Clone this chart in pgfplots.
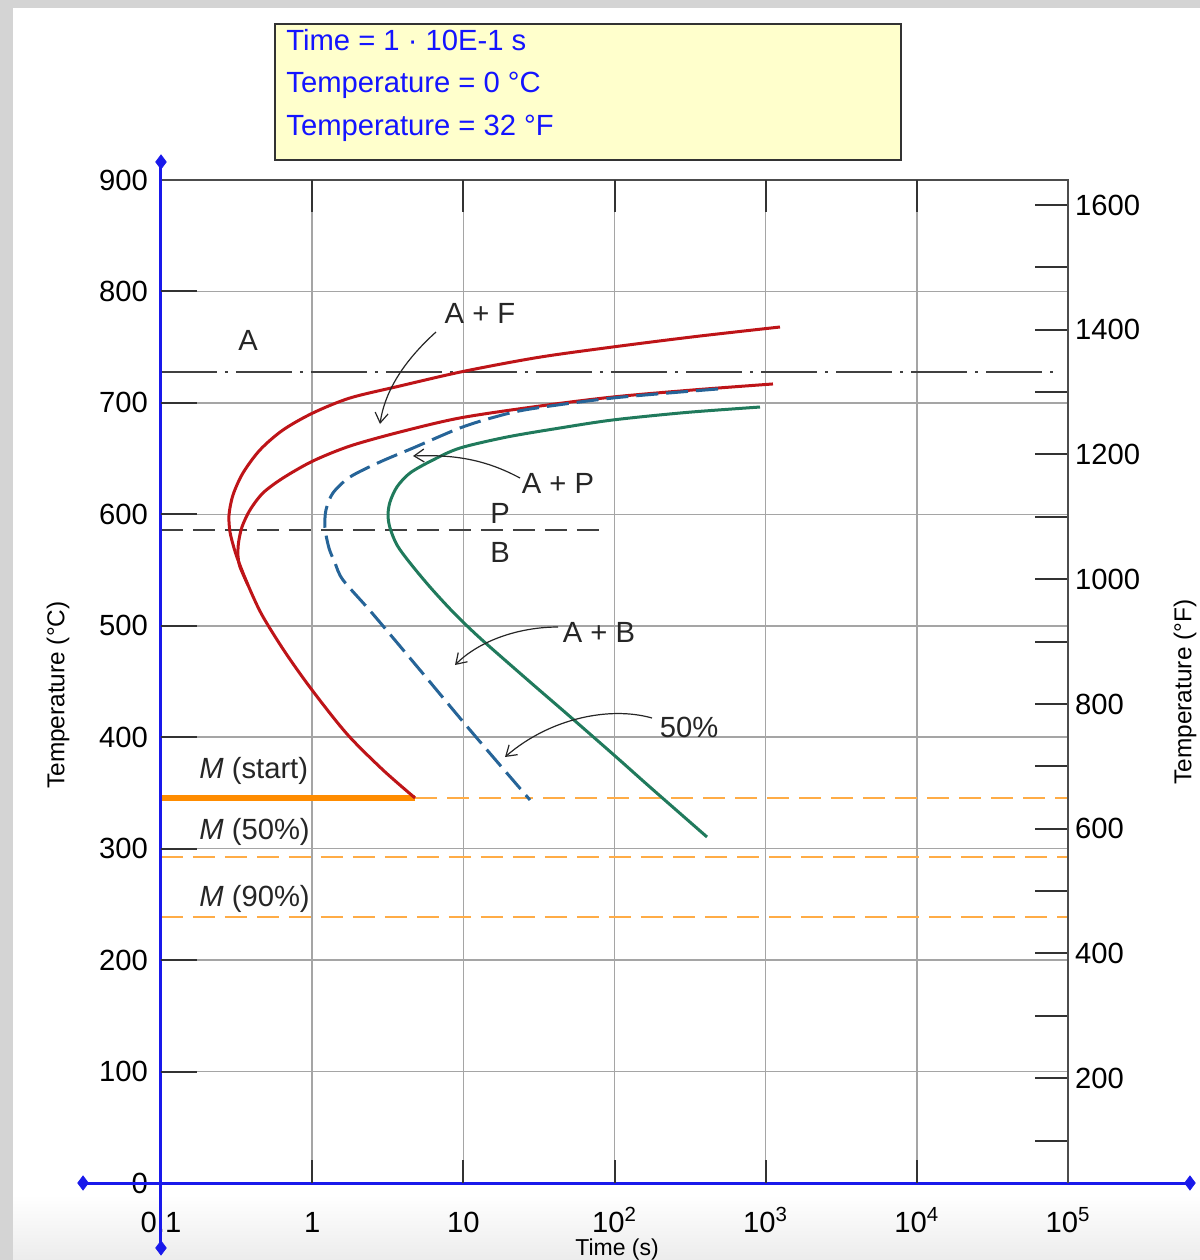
\documentclass[border=0pt]{standalone}
\usepackage{fontspec}
\setmainfont{Liberation Sans}
\usepackage{pgfplots}
\pgfplotsset{compat=1.18}
\usetikzlibrary{arrows.meta}

\definecolor{ttred}{RGB}{190,20,24}
\definecolor{ttblue}{RGB}{38,100,152}
\definecolor{ttgreen}{RGB}{32,122,92}
\definecolor{ttorange}{RGB}{255,140,0}
\definecolor{ttorangel}{RGB}{255,172,70}
\definecolor{axblue}{RGB}{25,25,235}
\definecolor{gridgray}{RGB}{165,165,165}
\definecolor{boxyellow}{RGB}{255,255,204}
\definecolor{txtblue}{RGB}{20,20,255}
\definecolor{bggray}{RGB}{212,212,212}
\definecolor{bgbottom}{RGB}{236,236,236}

\newcommand{\fs}{\fontsize{14.6}{17}\selectfont}
\newcommand{\fsl}{\fontsize{12.2}{14}\selectfont}

\begin{document}
\begin{tikzpicture}
\path[use as bounding box] (0,0) rectangle (600pt,-630pt);
\begin{scope}[x=0.5pt,y=-0.5pt]
\fill[bggray] (0,0) rectangle (1200,1260);
\fill[white] (13,8) rectangle (1200,1260);
\shade[top color=white, bottom color=bgbottom] (13,1195) rectangle (1200,1260);
\end{scope}

% main axis
\begin{axis}[at={(80.5pt,-591.5pt)}, anchor=south west,
  scale only axis, width=453.5pt, height=501.5pt,
  xmode=log, xmin=0.1, xmax=100000, ymin=0, ymax=900,
  /pgf/number format/assume math mode=true,
  tick label style={font=\fs},
  clip=false,
  axis line style={draw=black!70, line width=1pt},
  xtick={0.1,1,10,100,1000,10000,100000},
  xticklabels={0.1,1,10,10\textsuperscript{2},10\textsuperscript{3},10\textsuperscript{4},10\textsuperscript{5}},
  ytick={0,100,...,900},
  xtick pos=left, ytick pos=left,
  major tick length=0pt, tick style={draw=none},
  grid=major, major grid style={draw=gridgray, line width=0.75pt},
  xticklabel style={anchor=base, yshift=-24.5pt},
  yticklabel style={xshift=-3pt},
  xlabel={Time (s)}, ylabel={Temperature (°C)},
  every axis y label/.style={at={(axis description cs:-0.1136,0.4865)}, rotate=90, anchor=center, font=\fsl},
  every axis x label/.style={at={(axis description cs:0.5028,-0.0718)}, anchor=base, inner sep=0pt, font=\fontsize{11.5}{13}\selectfont},
]
% A1 line
\addplot[draw=black!75, line width=1pt, dash pattern=on 28pt off 4pt on 1.5pt off 4pt] coordinates {(0.1,727.7) (85900,727.7)};
% P / B boundary
\addplot[draw=black!75, line width=1pt, dash pattern=on 11pt off 5pt] coordinates {(0.1,586) (80,586)};
% M lines
\addplot[ttorangel, line width=1pt, dash pattern=on 11pt off 5pt] coordinates {(4.79,345.5) (100000,345.5)};
\addplot[ttorangel, line width=1pt, dash pattern=on 11pt off 5pt] coordinates {(0.1,292.5) (100000,292.5)};
\addplot[ttorangel, line width=1pt, dash pattern=on 11pt off 5pt] coordinates {(0.1,238.7) (100000,238.7)};
\addplot[ttorange, line width=3pt] coordinates {(0.1,345.5) (4.79,345.5)};
% outer red curve (ferrite start)
\addplot[ttred, line width=1.5pt, smooth, tension=0.5] coordinates {
(1243.6,768.1) (346.1,759.6) (97.7,750.2) (31.18,740.8) (9.95,728.2) (3.811,715.2) (1.779,704.4) (1.013,691.0)
(0.6412,675.7) (0.4517,657.8) (0.3485,637.1) (0.2995,617.4) (0.2818,599.4)
(0.2861,584.2) (0.3041,569.8) (0.3232,559.0) (0.3762,536.6) (0.4658,509.7)
(0.6610,476.5) (0.9975,442.4) (1.700,402.9) (2.942,370.6) (4.789,345.5)};
% inner red curve
\addplot[ttred, line width=1.5pt, smooth, tension=0.5] coordinates {
(1117.6,717.0) (330.5,711.6) (97.7,705.3) (30.48,696.8) (9.504,686.5) (3.811,673.9) (1.779,661.3) (1.013,647.9)
(0.6412,632.6) (0.4729,619.2) (0.3879,603.9) (0.3434,588.7) (0.3256,574.3)
(0.3232,562.6) (0.3332,552.8) (0.3762,536.6)};
% green finish curve
\addplot[ttgreen, line width=1.5pt, smooth, tension=0.5] coordinates {
(917.2,696.3) (297.1,691.4) (97.7,684.7) (43.6,677.5) (19.45,669.4) (9.504,659.5) (6.300,648.8) (4.438,637.1)
(3.640,624.6) (3.273,611.1) (3.175,599.4) (3.273,587.8) (3.640,572.5) (4.438,556.4)
(6.020,534.8) (8.542,512.4) (12.89,489.0) (27.61,449.6) (48.50,420.9) (100.8,383.2)
(171.7,355.3) (409.2,310.5)};
% blue dashed 50% curve
\addplot[ttblue, line width=1.5pt, smooth, tension=0.5, dash pattern=on 11pt off 4pt] coordinates {
(483.7,712.5) (97.7,704.4) (27.61,694.5) (16.20,687.4) (9.504,677.5) (4.645,659.5) (2.810,647.0)
(1.779,633.5) (1.373,619.2) (1.234,603.9) (1.216,587.8) (1.292,569.8) (1.416,556.4)
(1.600,541.1) (2.488,511.5) (5.168,460.3) (11.07,406.5) (27.61,343.7)};
% blue axis lines with diamonds
\addplot[axblue, line width=1.5pt] coordinates {(0.1,-58.3) (0.1,916.2)};
\addplot[axblue, line width=1.5pt] coordinates {(0.0305,0) (641000,0)};
\addplot[axblue, only marks, mark=diamond*, mark size=3.5pt] coordinates {(0.1,916.2) (0.1,-58.3) (0.0305,0) (641000,0)};
\end{axis}

% left ticks
\begin{axis}[at={(80.5pt,-591.5pt)}, anchor=south west,
  scale only axis, width=453.5pt, height=501.5pt,
  xmin=0, xmax=1, ymin=0, ymax=900,
  hide x axis, axis y line*=left, axis line style={draw=none},
  ytick={100,200,...,800}, yticklabels={},
  tick align=inside, major tick length=18pt,
  tick style={draw=black!80, line width=1pt}]
\end{axis}
% bottom ticks
\begin{axis}[at={(80.5pt,-591.5pt)}, anchor=south west,
  scale only axis, width=453.5pt, height=501.5pt,
  xmin=0, xmax=6, ymin=0, ymax=900,
  hide y axis, axis x line*=bottom, axis line style={draw=none},
  xtick={1,2,3,4,5}, xticklabels={},
  tick align=inside, major tick length=11.5pt,
  tick style={draw=black!80, line width=1pt}]
\end{axis}
% top ticks
\begin{axis}[at={(80.5pt,-591.5pt)}, anchor=south west,
  scale only axis, width=453.5pt, height=501.5pt,
  xmin=0, xmax=6, ymin=0, ymax=900,
  hide y axis, axis x line*=top, axis line style={draw=none},
  xtick={1,2,3,4,5}, xticklabels={},
  tick align=inside, major tick length=16pt,
  tick style={draw=black!80, line width=1pt}]
\end{axis}
% right Fahrenheit axis
\begin{axis}[at={(80.5pt,-591.5pt)}, anchor=south west,
  scale only axis, width=453.5pt, height=501.5pt,
  xmin=0, xmax=1, ymin=32, ymax=1640,
  hide x axis, axis y line*=right,
  y axis line style={draw=black!70, line width=1pt},
  ytick={200,400,...,1600}, minor ytick={100,300,...,1500},
  tick align=inside, major tick length=16.5pt, minor tick length=16.5pt,
  tick style={draw=black!80, line width=1pt},
  tick label style={font=\fs},
  /pgf/number format/assume math mode=true,
  /pgf/number format/1000 sep={},
  ylabel={Temperature (°F)},
  every axis y label/.style={at={(axis description cs:1.129,0.4895)}, rotate=90, anchor=center, font=\fsl},
]
\end{axis}

\begin{scope}[x=0.5pt,y=-0.5pt, font=\fs]
% info box
\draw[draw=black!80, line width=1pt, fill=boxyellow] (275,24) rectangle (901,160);
\node[anchor=base west, text=txtblue, inner sep=0] at (286,50) {Time = 1 · 10E-1 s};
\node[anchor=base west, text=txtblue, inner sep=0] at (286,92) {Temperature = 0 °C};
\node[anchor=base west, text=txtblue, inner sep=0] at (286,135) {Temperature = 32 °F};
% region labels
\node[anchor=base, inner sep=0, text=black!85] at (248,350) {A};
\node[anchor=base, inner sep=0, text=black!85] at (480,323) {A + F};
\node[anchor=base, inner sep=0, text=black!85] at (558,493) {A + P};
\node[anchor=base, inner sep=0, text=black!85] at (500,523) {P};
\node[anchor=base, inner sep=0, text=black!85] at (500,562) {B};
\node[anchor=base, inner sep=0, text=black!85] at (599,642) {A + B};
\node[anchor=base, inner sep=0, text=black!85] at (689,737) {50\%};
\node[anchor=base west, inner sep=0, text=black!85] at (199,778) {\textit{M} (start)};
\node[anchor=base west, inner sep=0, text=black!85] at (199,839) {\textit{M} (50\%)};
\node[anchor=base west, inner sep=0, text=black!85] at (199,906) {\textit{M} (90\%)};
% arrows
\begin{scope}[draw=black!85, line width=0.6pt, -{Straight Barb[length=5pt,width=6.5pt]}]
\draw (436,332) .. controls (405,360) and (385,390) .. (380,424);
\draw (520,478) .. controls (490,462) and (460,454) .. (413,456);
\draw (558,627) .. controls (520,627) and (480,640) .. (455,665);
\draw (652,718) .. controls (610,706) and (550,718) .. (505,757);
\end{scope}
\end{scope}
\end{tikzpicture}
\end{document}
